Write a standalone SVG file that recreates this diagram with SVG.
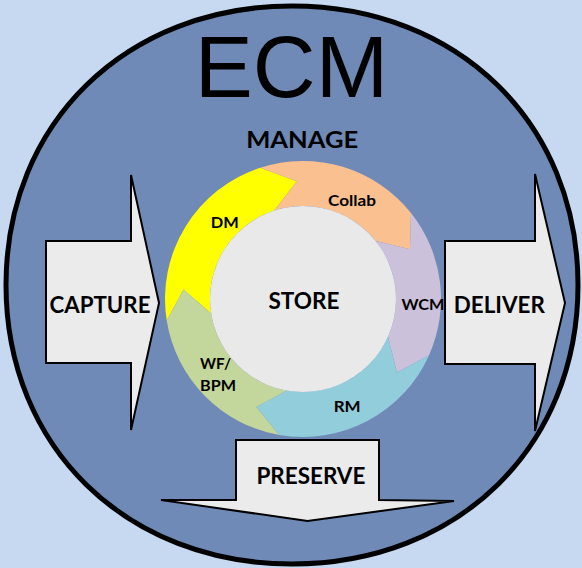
<svg xmlns="http://www.w3.org/2000/svg" width="582" height="568" viewBox="0 0 582 568">
  <style>
    .lbl { font-family: Lato, "Open Sans", "Liberation Sans", sans-serif; font-weight: bold; fill: #000; }
    .big { font-size: 22.5px; }
    .small { font-size: 16px; }
    .blk { fill: #ebebeb; stroke: #000; stroke-width: 2; stroke-linejoin: miter; }
  </style>
  <rect id="background" x="0" y="0" width="582" height="568" fill="#c6d9f1"/>
  <g id="ecm">
    <path d="M6,285 C6,123.2 126.1,6 292,6 C457.9,6 578,123.2 578,285 C578,446.8 457.9,564 292,564 C126.1,564 6,446.8 6,285 Z" fill="#6f8ab6" stroke="#000" stroke-width="5"/>
    <text x="291.5" y="97.3" text-anchor="middle" font-family="'Liberation Sans', Arial, sans-serif" font-size="87" fill="#000">ECM</text>
  </g>
  <g id="manage">
    <text class="lbl big" x="302.2" y="148.3" text-anchor="middle" textLength="112" lengthAdjust="spacingAndGlyphs">MANAGE</text>
  </g>
  <g id="capture">
    <polygon class="blk" points="46,241 131,241 131,175 159,303 131,430 131,363 46,363"/>
    <text class="lbl big" x="100" y="312.7" text-anchor="middle" textLength="101" lengthAdjust="spacingAndGlyphs">CAPTURE</text>
  </g>
  <g id="deliver">
    <polygon class="blk" points="445,241 535,241 535,174 565,303 535,431 535,364 445,364"/>
    <text class="lbl big" x="499.3" y="312.7" text-anchor="middle" textLength="91" lengthAdjust="spacingAndGlyphs">DELIVER</text>
  </g>
  <g id="preserve">
    <polygon class="blk" points="236,440 379,440 379,500 454,501 307.5,521 161,500 236,500"/>
    <text class="lbl big" x="310.9" y="484.3" text-anchor="middle" textLength="109" lengthAdjust="spacingAndGlyphs">PRESERVE</text>
  </g>
  <g id="dm">
    <path fill="#ffff00" d="M166.70,320.59 A138,138 0 0 1 260.36,167.75 L296.82,181.16 L274.26,210.55 A93,93 0 0 0 211.15,313.55 L183.5,289.5 Z"/>
    <text class="lbl small" x="224.7" y="228.3" text-anchor="middle" textLength="28" lengthAdjust="spacingAndGlyphs">DM</text>
  </g>
  <g id="collab">
    <path fill="#fac090" d="M260.36,167.75 A138,138 0 0 1 411.0,213.09 L409.94,249.13 L375.78,241.11 A93,93 0 0 0 274.26,210.55 L296.82,181.16 Z"/>
    <text class="lbl small" x="352" y="205.7" text-anchor="middle" textLength="48" lengthAdjust="spacingAndGlyphs">Collab</text>
  </g>
  <g id="wcm">
    <path fill="#ccc1da" d="M411.0,213.09 A138,138 0 0 1 429.07,355.13 L397,372.5 L387.96,336.83 A93,93 0 0 0 375.78,241.11 L409.94,249.13 Z"/>
    <text class="lbl small" x="422.9" y="310" text-anchor="middle" textLength="43" lengthAdjust="spacingAndGlyphs">WCM</text>
  </g>
  <g id="rm">
    <path fill="#92cddc" d="M429.07,355.13 A138,138 0 0 1 279.04,434.90 L256.3,407 L286.85,390.59 A93,93 0 0 0 387.96,336.83 L397,372.5 Z"/>
    <text class="lbl small" x="347.2" y="412.3" text-anchor="middle" textLength="27" lengthAdjust="spacingAndGlyphs">RM</text>
  </g>
  <g id="wf-bpm">
    <path fill="#c3d69b" d="M279.04,434.90 A138,138 0 0 1 166.70,320.59 L183.5,289.5 L211.15,313.55 A93,93 0 0 0 286.85,390.59 L256.3,407 Z"/>
    <text class="lbl small" x="200" y="369" textLength="31" lengthAdjust="spacingAndGlyphs">WF/</text>
    <text class="lbl small" x="200" y="390.7" textLength="36" lengthAdjust="spacingAndGlyphs">BPM</text>
  </g>
  <g id="store">
    <circle cx="303" cy="299" r="93" fill="#e9e9e9"/>
    <text class="lbl big" x="304" y="309.3" text-anchor="middle" textLength="71" lengthAdjust="spacingAndGlyphs">STORE</text>
  </g>
  <g id="connectors"/>
</svg>
